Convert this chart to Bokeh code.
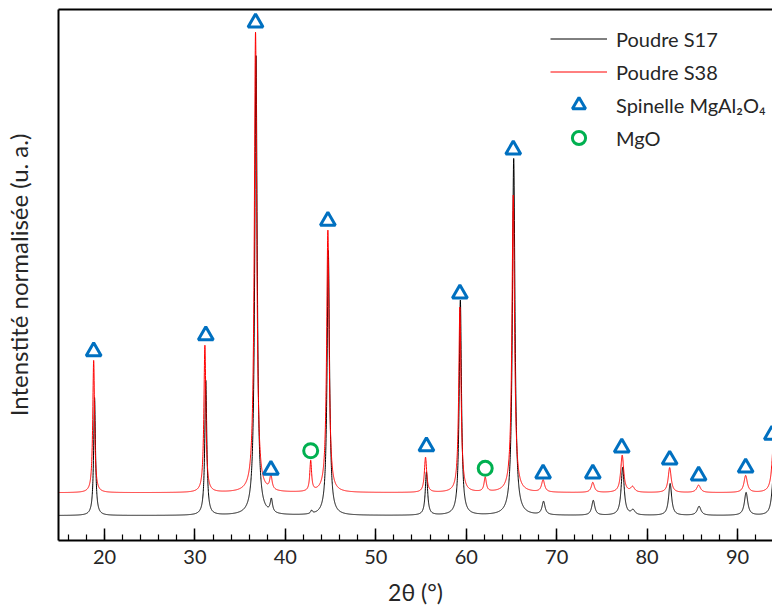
import numpy as np
from bokeh.plotting import figure
from bokeh.models import (ColumnDataSource, Range1d, LinearAxis, FixedTicker,
                          SingleIntervalTicker, Legend, LegendItem)
from bokeh.embed import file_html
from bokeh.resources import INLINE

# ---- data (2theta in degrees, normalized intensity 0-100) ----
# Poudre S38 (red): baseline, peak positions, apex intensities, half widths
s38_base = 9.0
s38_pos = [18.8, 31.1, 36.7, 38.4, 42.8, 44.7, 55.5, 59.3, 62.1, 65.2, 68.5, 74.0, 77.25, 78.4, 82.5, 85.7, 90.9, 94.0]
s38_apex = [33.9, 36.7, 95.7, 11.7, 14.7, 58.4, 15.6, 43.9, 11.7, 65.0, 11.3, 10.9, 16.0, 10.0, 13.7, 10.4, 12.2, 19.0]
s38_hwhm = [0.12, 0.13, 0.16, 0.15, 0.12, 0.16, 0.15, 0.15, 0.15, 0.17, 0.2, 0.2, 0.2, 0.25, 0.2, 0.25, 0.22, 0.22]

# Poudre S17 (black)
s17_base = 4.7
s17_pos = [18.9, 31.2, 36.75, 38.45, 42.9, 44.75, 55.6, 59.35, 65.25, 68.55, 74.05, 77.3, 78.45, 82.55, 85.75, 90.95, 94.0]
s17_apex = [26.9, 30.1, 91.3, 7.2, 5.3, 54.6, 12.8, 45.2, 71.9, 7.2, 7.5, 13.7, 5.6, 10.7, 6.4, 9.0, 13.0]
s17_hwhm = [0.12, 0.13, 0.16, 0.15, 0.12, 0.16, 0.15, 0.15, 0.17, 0.2, 0.2, 0.2, 0.25, 0.2, 0.25, 0.22, 0.22]

# phase markers
spinel_x = [18.8, 31.2, 36.7, 38.4, 44.7, 55.6, 59.3, 65.2, 68.5, 74.0, 77.2, 82.5, 85.7, 90.9, 93.8]
spinel_y = [35.6, 38.6, 97.5, 13.3, 60.2, 17.7, 46.5, 73.6, 12.6, 12.6, 17.5, 15.2, 12.2, 13.7, 19.9]
mgo_x = [42.8, 62.1]
mgo_y = [16.9, 13.6]

x_ticks_interval = 10


def pattern(base, pos, apex, hwhm, grid):
    y = np.full_like(grid, base)
    for c, a, w in zip(pos, apex, hwhm):
        y += (a - base) / (1.0 + ((grid - c) / w) ** 2)
    return y


grid = np.linspace(14.9, 93.9, 8000)
src17 = ColumnDataSource(dict(x=grid, y=pattern(s17_base, s17_pos, s17_apex, s17_hwhm, grid)))
src38 = ColumnDataSource(dict(x=grid, y=pattern(s38_base, s38_pos, s38_apex, s38_hwhm, grid)))
src_sp = ColumnDataSource(dict(x=spinel_x, y=spinel_y))
src_mg = ColumnDataSource(dict(x=mgo_x, y=mgo_y))

FONT = "Lato"
TXT = "#262626"

p = figure(width=772, height=614, x_range=Range1d(14.91, 93.87), y_range=Range1d(0, 100),
           output_backend="svg", toolbar_location=None,
           x_axis_location=None, y_axis_location=None,
           min_border_left=58, min_border_right=0, min_border_top=9, min_border_bottom=74)
p.outline_line_color = None
p.xgrid.visible = False
p.ygrid.visible = False

xaxis = LinearAxis(ticker=SingleIntervalTicker(interval=x_ticks_interval, num_minor_ticks=5),
                   axis_label="2θ (°)")
xaxis.axis_line_width = 2
xaxis.major_tick_line_width = 1.5
xaxis.minor_tick_line_width = 1.2
xaxis.major_tick_in = 12
xaxis.major_tick_out = 0
xaxis.minor_tick_in = 6
xaxis.minor_tick_out = 0
xaxis.major_label_text_font = FONT
xaxis.major_label_text_font_size = "20px"
xaxis.major_label_text_color = TXT
xaxis.major_label_standoff = 9
xaxis.axis_label_text_font = FONT
xaxis.axis_label_text_font_size = "23px"
xaxis.axis_label_text_font_style = "normal"
xaxis.axis_label_text_color = TXT
xaxis.axis_label_standoff = 11
p.add_layout(xaxis, "below")

yaxis = LinearAxis(ticker=FixedTicker(ticks=[]), axis_label="Intenstité normalisée (u. a.)")
yaxis.axis_line_width = 2
yaxis.major_tick_in = 0
yaxis.major_tick_out = 0
yaxis.minor_tick_in = 0
yaxis.minor_tick_out = 0
yaxis.major_label_text_font_size = "0px"
yaxis.major_label_standoff = 0
yaxis.axis_label_text_font = FONT
yaxis.axis_label_text_font_size = "24px"
yaxis.axis_label_text_font_style = "normal"
yaxis.axis_label_text_color = TXT
yaxis.axis_label_standoff = 26
p.add_layout(yaxis, "left")

topaxis = LinearAxis(ticker=FixedTicker(ticks=[]))
topaxis.axis_line_width = 2
topaxis.major_tick_in = 0
topaxis.major_tick_out = 0
topaxis.minor_tick_in = 0
topaxis.minor_tick_out = 0
topaxis.major_label_text_font_size = "0px"
topaxis.major_label_standoff = 0
p.add_layout(topaxis, "above")

r17 = p.line("x", "y", source=src17, line_color="black", line_width=1)
r38 = p.line("x", "y", source=src38, line_color="#ff0000", line_width=1)
rsp = p.scatter("x", "y", source=src_sp, marker="triangle", size=15, fill_color=None,
                line_color="#0070C0", line_width=3)
rmg = p.scatter("x", "y", source=src_mg, marker="circle", size=14, fill_color=None,
                line_color="#00B050", line_width=3)

legend = Legend(items=[LegendItem(label="Poudre S17", renderers=[r17]),
                       LegendItem(label="Poudre S38", renderers=[r38]),
                       LegendItem(label="Spinelle MgAl₂O₄", renderers=[rsp]),
                       LegendItem(label="MgO", renderers=[rmg])],
                location=(492, 386), orientation="vertical",
                glyph_width=57, glyph_height=33, spacing=0, padding=0, margin=0,
                label_standoff=9, label_text_font=FONT, label_text_font_size="20px",
                label_text_color=TXT, border_line_color=None, background_fill_alpha=0)
p.add_layout(legend)

open("out.html", "w").write(file_html(p, INLINE))
